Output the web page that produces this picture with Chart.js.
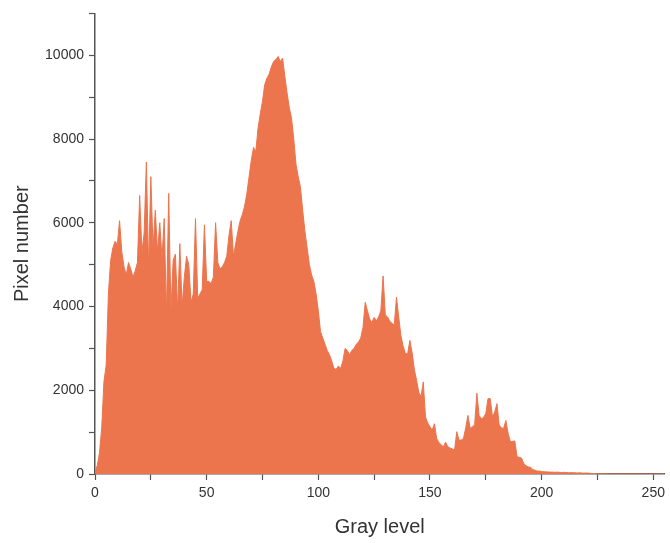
<!DOCTYPE html>
<html>
<head>
<meta charset="utf-8">
<script src="https://cdn.jsdelivr.net/npm/chart.js@4.4.1/dist/chart.umd.min.js"></script>
<style>
  html, body { margin: 0; padding: 0; background: #ffffff; }
  #wrap { width: 670px; height: 543px; }
</style>
</head>
<body>
<div id="wrap"><canvas id="c" width="670" height="543"></canvas></div>
<script>
// Histogram: pixel count for each gray level 0..255
const pixelCounts = [
  50, 200, 500, 1100, 2200, 2600, 4300, 5100, 5400, 5560,
  5480, 6050, 5300, 4950, 4750, 5050, 4900, 4700, 4850, 5050,
  6650, 5300, 5750, 7450, 4900, 7100, 5400, 6300, 5300, 6000,
  5150, 6100, 3800, 6700, 3900, 5100, 5250, 3900, 5500, 4000,
  4700, 5200, 5000, 4100, 4300, 6100, 4200, 4300, 4400, 5950,
  4600, 4600, 4550, 4700, 6000, 5050, 4900, 4950, 5050, 5200,
  5700, 6050, 5200, 5500, 5800, 6050, 6200, 6400, 6700, 7100,
  7500, 7800, 7700, 8250, 8600, 8900, 9300, 9450, 9550, 9730,
  9850, 9900, 9970, 9850, 9930, 9500, 9100, 8750, 8500, 8000,
  7400, 7100, 6850, 6300, 5800, 5400, 5000, 4750, 4600, 4300,
  3900, 3400, 3250, 3100, 2950, 2850, 2700, 2520, 2500, 2580,
  2520, 2700, 3000, 2950, 2850, 2950, 3000, 3100, 3150, 3250,
  3500, 4100, 3900, 3700, 3620, 3740, 3660, 3750, 3900, 4730,
  3800, 3750, 3650, 3600, 3550, 4220, 3750, 3300, 3050, 2880,
  2870, 3190, 2900, 2500, 2240, 1950, 1850, 2200, 1360, 1220,
  1130, 1050, 1200, 850, 750, 700, 650, 760, 650, 620,
  600, 570, 1010, 810, 810, 850, 1100, 1400, 1090, 1130,
  1170, 1930, 1400, 1320, 1350, 1450, 1800, 1800, 1360, 1480,
  1680, 1170, 1100, 1090, 1280, 970, 770, 780, 790, 410,
  400, 380, 250, 200, 170, 160, 110, 90, 70, 70,
  60, 55, 50, 50, 45, 45, 40, 45, 40, 35,
  40, 35, 30, 35, 30, 30, 25, 30, 25, 20,
  25, 20, 15, 10, 10, 5, 5, 5, 5, 5,
  0, 0, 0, 0, 0, 0, 0, 0, 0, 0,
  0, 0, 0, 0, 0, 0, 0, 0, 0, 0,
  0, 0, 0, 0, 0, 0
];
const grayLevels = pixelCounts.map((_, i) => i);
const xTickLabels = [0, 50, 100, 150, 200, 250];
const yTickLabels = [0, 2000, 4000, 6000, 8000, 10000];
const xTitle = 'Gray level';
const yTitle = 'Pixel number';

const fillColor = 'rgb(236,117,78)';
const axisColor = '#555555';
const textColor = '#333333';
const fontFamily = '"Liberation Sans", Arial, sans-serif';

const points = grayLevels.map((g, i) => ({ x: g, y: pixelCounts[i] }));

new Chart(document.getElementById('c'), {
  type: 'line',
  data: {
    datasets: [{
      data: points,
      borderColor: fillColor,
      backgroundColor: fillColor,
      borderWidth: 1,
      fill: 'origin',
      pointRadius: 0,
      tension: 0
    }]
  },
  options: {
    responsive: false,
    animation: false,
    layout: { padding: { top: 11, right: 2, left: 0, bottom: 0 } },
    plugins: { legend: { display: false }, tooltip: { enabled: false } },
    scales: {
      x: {
        type: 'linear',
        min: 0,
        max: 255,
        afterFit: s => { s.height = 69; },
        border: { display: true, color: axisColor, width: 1.5 },
        grid: { display: true, drawOnChartArea: false, drawTicks: true, tickLength: 6, tickColor: axisColor, tickWidth: 1.2 },
        ticks: {
          stepSize: 25,
          includeBounds: false,
          autoSkip: false,
          maxRotation: 0,
          padding: 5,
          color: textColor,
          font: { family: fontFamily, size: 14 },
          callback: v => (xTickLabels.includes(v) ? String(v) : '')
        },
        title: {
          display: true,
          text: xTitle,
          color: textColor,
          font: { family: fontFamily, size: 20 },
          padding: { top: 0, bottom: 4 }
        }
      },
      y: {
        min: 0,
        max: 11000,
        afterFit: s => { s.width = 95; },
        border: { display: true, color: axisColor, width: 1.5 },
        grid: { display: true, drawOnChartArea: false, drawTicks: true, tickLength: 6, tickColor: axisColor, tickWidth: 1.2 },
        ticks: {
          stepSize: 1000,
          autoSkip: false,
          padding: 5,
          color: textColor,
          font: { family: fontFamily, size: 14 },
          callback: v => (yTickLabels.includes(v) ? String(v) : '')
        },
        title: {
          display: true,
          text: yTitle,
          color: textColor,
          font: { family: fontFamily, size: 20 },
          padding: { top: 10, bottom: 0 }
        }
      }
    }
  }
});
</script>
</body>
</html>
